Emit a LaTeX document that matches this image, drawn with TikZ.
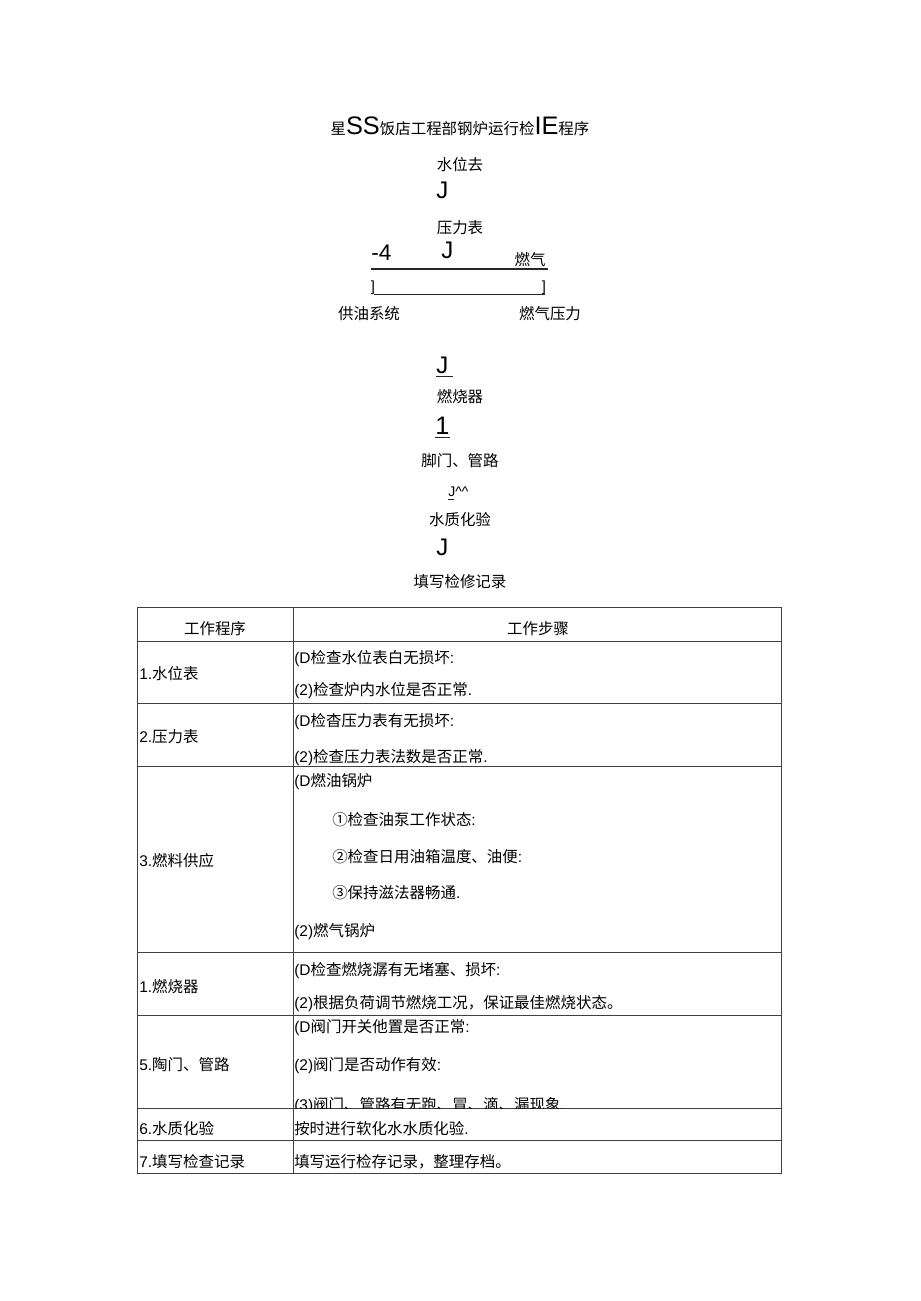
\documentclass[tikz,border=0pt]{standalone}
\usepackage{fontspec}
\setmainfont{Noto Sans CJK SC}
\newfontfamily\arialfont{Liberation Sans}
\newcommand\arial[1]{{\arialfont #1}}
\usetikzlibrary{positioning}
\tikzset{
	cjktext/.style={inner sep=0pt, font=\fontsize{11.6}{13}\selectfont, text height=0.88em, text depth=0.12em},
	celltext/.style={cjktext, anchor=west},
	bigmark/.style={inner sep=0pt, anchor=west, font=\arialfont\fontsize{18}{20}\selectfont, text height=0.716em, text depth=0pt},
	markline/.style={draw=black!85, line width=0.8pt},
	tabline/.style={draw=black!75, line width=0.7pt}
}

\begin{document}
\begin{tikzpicture}[x=0.75pt, y=-0.75pt]
	\useasboundingbox[fill=white] (0,0) rectangle (920,1301);
	\node[inner sep=0pt, anchor=base, font=\fontsize{11.6}{13}\selectfont] (title) at (460,135)
		{星{\arialfont\fontsize{19}{20}\selectfont SS}饭店工程部钢炉运行检{\arialfont\fontsize{19}{20}\selectfont IE}程序};
	\node[cjktext] (sw) at (460,165) {水位去};
	\node[bigmark] (j1) at (436,194) {J};
	\node[cjktext] (yl) at (460,228) {压力表};
	\node[bigmark, font=\arialfont\fontsize{17}{19}\selectfont] (m4) at (371,256) {-4};
	\node[bigmark] (j2) at (441,254) {J};
	\node[cjktext] (rq) at (530,260) {燃气};
	\coordinate (ula) at (371,269);
	\coordinate (ulb) at (548,269);
	\draw[markline] (ula) -- (ulb);
	\node[inner sep=0pt, font=\arialfont\fontsize{11}{12}\selectfont, anchor=south] (bra) at (373,294.5) {]};
	\node[inner sep=0pt, font=\arialfont\fontsize{11}{12}\selectfont, anchor=south] (brb) at (544,294.5) {]};
	\draw[markline] ([xshift=1pt]bra.south) -- ([xshift=1pt]brb.south);
	\node[cjktext] (gy) at (369,314) {供油系统};
	\node[cjktext] (rqyl) at (550,314) {燃气压力};
	\node[bigmark] (j3) at (436,369) {J};
	\draw[markline] ([yshift=-2pt]j3.south west) -- ([yshift=-2pt,xshift=3pt]j3.south east);
	\node[cjktext] (rsq) at (460,397) {燃烧器};
	\node[bigmark, font=\arialfont\fontsize{19}{20}\selectfont] (one) at (435,430) {1};
	\draw[markline] ([yshift=-1.5pt]one.south west) -- ([yshift=-1.5pt]one.south east);
	\node[cjktext] (fm) at (460,461) {脚门、管路};
	\node[inner sep=0pt, anchor=west, font=\arialfont\fontsize{10.5}{12}\selectfont, text height=0.716em, text depth=0pt] (jh) at (448,492) {J\textasciicircum\textasciicircum};
	\draw[markline, line width=0.6pt] ([yshift=-1.5pt]jh.south west) -- ++(6,0);
	\node[cjktext] (sz) at (460,520) {水质化验};
	\node[bigmark] (j4) at (436,551) {J};
	\node[cjktext] (tx) at (460,582) {填写检修记录};

	\draw[tabline] (137,607) rectangle (781,1173);
	\draw[tabline] (293,607) -- (293,1173);
	\foreach \y in {641,703,766,952,1015,1108,1140}
		\draw[tabline] (137,\y) -- (781,\y);

	\node[cjktext] (h1) at (215,629) {工作程序};
	\node[cjktext] (h2) at (538,629) {工作步骤};

	\node[celltext] (a1) at (139,674) {\arial{1.}水位表};
	\node[celltext] (b1a) at (294,658) {\arial{(D}检查水位表白无损坏\arial{:}};
	\node[celltext] (b1b) at (294,690) {\arial{(2)}检查炉内水位是否正常\arial{.}};
	\node[celltext] (a2) at (139,737) {\arial{2.}压力表};
	\node[celltext] (b2a) at (294,721) {\arial{(D}检杳压力表有无损坏\arial{:}};
	\node[celltext] (b2b) at (294,757) {\arial{(2)}检查压力表法数是否正常\arial{.}};
	\node[celltext] (a3) at (139,861) {\arial{3.}燃料供应};
	\node[celltext] (b3a) at (294,781) {\arial{(D}燃油锅炉};
	\node[celltext] (b3b) at (332,820) {①检查油泵工作状态\arial{:}};
	\node[celltext] (b3c) at (332,857) {②检查日用油箱温度、油便\arial{:}};
	\node[celltext] (b3d) at (332,893) {③保持滋法器畅通\arial{.}};
	\node[celltext] (b3e) at (294,931) {\arial{(2)}燃气锅炉};
	\node[celltext] (a4) at (139,987) {\arial{1.}燃烧器};
	\node[celltext] (b4a) at (294,970) {\arial{(D}检查燃烧潺有无堵塞、损坏\arial{:}};
	\node[celltext] (b4b) at (294,1003) {\arial{(2)}根据负荷调节燃烧工况，保证最佳燃烧状态。};
	\node[celltext] (a5) at (139,1065) {\arial{5.}陶门、管路};
	\node[celltext] (b5a) at (294,1027) {\arial{(D}阀门开关他置是否正常\arial{:}};
	\node[celltext] (b5b) at (294,1065) {\arial{(2)}阀门是否动作有效\arial{:}};
	\begin{scope}
		\clip (293,1015) rectangle (781,1108);
		\node[celltext] (b5c) at (294,1105) {\arial{(3)}阀门、管路有无跑、冒、滴、漏现象\arial{.}};
	\end{scope}
	\node[celltext] (a6) at (139,1129) {\arial{6.}水质化验};
	\node[celltext] (b6) at (294,1129) {按时进行软化水水质化验\arial{.}};
	\node[celltext] (a7) at (139,1162) {\arial{7.}填写检查记录};
	\node[celltext] (b7) at (294,1162) {填写运行检存记录，整理存档。};
\end{tikzpicture}
\end{document}
